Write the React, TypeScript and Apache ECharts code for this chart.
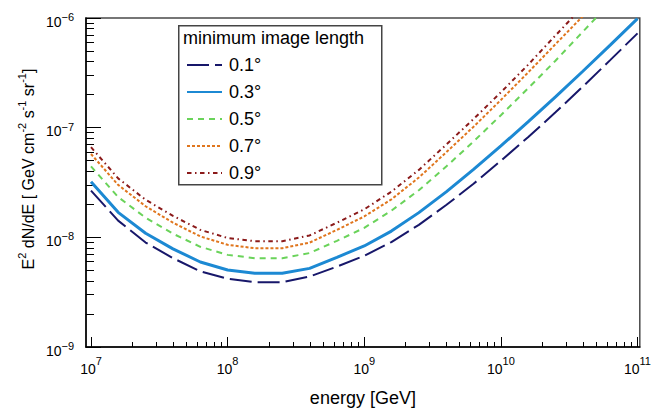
import React, { useEffect, useRef } from "react";
import * as echarts from "echarts";

// energy grid [GeV]
const energies = [1e7, 1.58e7, 2.51e7, 3.98e7, 6.31e7, 1e8, 1.58e8, 2.51e8, 3.98e8, 6.31e8, 1e9, 1.58e9, 2.51e9, 3.98e9, 6.31e9, 1e10, 1.58e10, 2.51e10, 3.98e10, 6.31e10, 1e11];

// E^2 dN/dE sensitivity [GeV cm^-2 s^-1 sr^-1] for each minimum image length
const sens01 = [2.67e-8, 1.42e-8, 8.97e-9, 6.46e-9, 4.9e-9, 4.19e-9, 3.9e-9, 3.9e-9, 4.39e-9, 5.41e-9, 6.78e-9, 9.06e-9, 1.3e-8, 1.97e-8, 3.08e-8, 4.99e-8, 8.18e-8, 1.38e-7, 2.37e-7, 4.13e-7, 7.24e-7];
const sens03 = [3.21e-8, 1.69e-8, 1.09e-8, 7.85e-9, 5.96e-9, 5.04e-9, 4.71e-9, 4.71e-9, 5.21e-9, 6.58e-9, 8.34e-9, 1.14e-8, 1.68e-8, 2.6e-8, 4.16e-8, 6.81e-8, 1.13e-7, 1.91e-7, 3.27e-7, 5.66e-7, 9.86e-7];
const sens05 = [4.43e-8, 2.33e-8, 1.51e-8, 1.08e-8, 8.2e-9, 6.92e-9, 6.46e-9, 6.46e-9, 7.19e-9, 9.29e-9, 1.22e-8, 1.75e-8, 2.69e-8, 4.42e-8, 7.48e-8, 1.3e-7, 2.28e-7, 4.08e-7, 7.5e-7, 1.37e-6, 2.54e-6];
const sens07 = [5.75e-8, 3.01e-8, 1.92e-8, 1.36e-8, 1.02e-8, 8.55e-9, 7.96e-9, 7.96e-9, 8.95e-9, 1.17e-8, 1.55e-8, 2.22e-8, 3.51e-8, 5.96e-8, 1.02e-7, 1.79e-7, 3.18e-7, 5.77e-7, 1.04e-6, 1.92e-6, 3.5e-6];
const sens09 = [6.64e-8, 3.45e-8, 2.2e-8, 1.57e-8, 1.17e-8, 9.86e-9, 9.23e-9, 9.23e-9, 1.04e-8, 1.36e-8, 1.8e-8, 2.61e-8, 4.12e-8, 7.0e-8, 1.2e-7, 2.1e-7, 3.74e-7, 6.93e-7, 1.27e-6, 2.35e-6, 4.4e-6];

const seriesNames = ["0.1°", "0.3°", "0.5°", "0.7°", "0.9°"];
const legendTitle = "minimum image length";

// axis ranges (decades)
const xDecades = [7, 8, 9, 10, 11];
const yDecades = [-9, -8, -7, -6];
const xMinLog = 6.9634;
const xMaxLog = 11.0168;

const FONT = "'Liberation Sans', Arial, Helvetica, sans-serif";

export default function App() {
  const ref = useRef<HTMLDivElement>(null);
  useEffect(() => {
    const chart = echarts.init(ref.current!, null, { renderer: "svg" });

    const xMinor: number[] = [];
    for (let d = 6; d <= 10; d++) for (let k = 2; k <= 9; k++) {
      const v = d + Math.log10(k);
      if (v > xMinLog && v < xMaxLog) xMinor.push(v);
    }
    const yMinor: number[] = [];
    for (let d = -9; d <= -7; d++) for (let k = 2; k <= 9; k++) yMinor.push(d + Math.log10(k));

    const mk = (name: string, vals: number[], color: string, width: number, type: any) => ({
      name,
      type: "line",
      xAxisIndex: 0,
      yAxisIndex: 0,
      data: energies.map((e, i) => [Math.log10(e), Math.log10(vals[i])]),
      symbol: "none",
      showSymbol: false,
      clip: true,
      silent: true,
      lineStyle: { color, width, type, cap: "butt" },
      itemStyle: { color },
    });

    const rich = {
      b: { fontSize: 14, fontFamily: FONT, color: "#000", lineHeight: 28 },
      s: { fontSize: 11, fontFamily: FONT, color: "#000", lineHeight: 11, verticalAlign: "top" },
    };
    const richY = {
      b: { fontSize: 14, fontFamily: FONT, color: "#000", lineHeight: 20 },
      s: { fontSize: 11, fontFamily: FONT, color: "#000", lineHeight: 11, verticalAlign: "top" },
    };

    const option: any = {
      animation: false,
      grid: {
        left: 86, right: 14, top: 18, bottom: 52,
        show: true, borderColor: "#4a4a4a", borderWidth: 1.5, backgroundColor: "transparent",
      },
      xAxis: [
        {
          type: "value", min: xMinLog, max: xMaxLog, position: "bottom",
          name: "energy [GeV]", nameLocation: "middle", nameGap: 42,
          nameTextStyle: { fontSize: 18, fontFamily: FONT, color: "#000" },
          axisLine: { show: true, lineStyle: { color: "#000", width: 1.5 } },
          axisTick: { show: true, inside: true, length: 10, customValues: xDecades, lineStyle: { color: "#000", width: 1 } },
          axisLabel: {
            customValues: xDecades, margin: 8,
            formatter: (v: number) => `{b|10}{s|${Math.round(v)}}`,
            rich,
          },
          splitLine: { show: false },
        },
        {
          type: "value", min: xMinLog, max: xMaxLog, position: "bottom", offset: 0,
          axisLine: { show: false },
          axisTick: { show: true, inside: true, length: 5, customValues: xMinor, lineStyle: { color: "#000", width: 1 } },
          axisLabel: { show: false },
          splitLine: { show: false },
        },
      ],
      yAxis: [
        {
          type: "value", min: -9, max: -6, interval: 1, position: "left",
          axisLine: { show: true, lineStyle: { color: "#000", width: 1.5 } },
          axisTick: { show: true, inside: true, length: 15, customValues: yDecades, lineStyle: { color: "#000", width: 1 } },
          axisLabel: {
            customValues: yDecades, margin: 12, padding: [7, 0, 0, 0],
            formatter: (v: number) => `{b|10}{s|\u2212${Math.abs(Math.round(v))}}`,
            rich: richY,
          },
          splitLine: { show: false },
        },
        {
          type: "value", min: -9, max: -6, position: "left", offset: 0,
          axisLine: { show: false },
          axisTick: { show: true, inside: true, length: 8, customValues: yMinor, lineStyle: { color: "#000", width: 1 } },
          axisLabel: { show: false },
          splitLine: { show: false },
        },
      ],
      legend: {
        left: 186, top: 56, orient: "vertical", padding: 0,
        itemWidth: 35, itemHeight: 14, itemGap: 9,
        selectedMode: false,
        data: seriesNames,
        itemStyle: { opacity: 0 },
        textStyle: { fontSize: 18, fontFamily: FONT, color: "#000", lineHeight: 14, padding: [0, 0, 0, 2] },
      },
      graphic: [
        {
          type: "rect", left: 178, top: 25, z: 10,
          shape: { x: 0, y: 0, width: 203, height: 159 },
          style: { fill: "transparent", stroke: "#444", lineWidth: 1.5 },
        },
        {
          type: "text", x: 183, y: 38, z: 10,
          style: { text: legendTitle, fontSize: 18, fontFamily: FONT, fill: "#000", align: "left", verticalAlign: "middle" },
        },
        {
          type: "text", x: 28, y: 169, rotation: Math.PI / 2, z: 10,
          style: {
            text: "{m|E}{s|2}{m| dN/dE [ GeV cm}{s|-2}{m| s}{s|-1}{m| sr}{s|-1}{m|]}",
            align: "center", verticalAlign: "middle",
            rich: {
              m: { fontSize: 16, fontFamily: FONT, fill: "#000", lineHeight: 24 },
              s: { fontSize: 11, fontFamily: FONT, fill: "#000", lineHeight: 11, verticalAlign: "top" },
            },
          },
        },
      ],
      series: [
        mk(seriesNames[0], sens01, "#17176a", 2, [22, 6]),
        mk(seriesNames[1], sens03, "#1c89d3", 3, "solid"),
        mk(seriesNames[2], sens05, "#6ad35a", 2, [6, 5]),
        mk(seriesNames[3], sens07, "#e0761e", 2, [3, 2]),
        mk(seriesNames[4], sens09, "#8b1a1a", 2, [4.5, 3.5, 1.5, 3.5]),
      ],
    };
    chart.setOption(option);
    return () => chart.dispose();
  }, []);
  return <div ref={ref} style={{ position: "fixed", left: 0, top: 0, width: 654, height: 412, background: "#fff" }} />;
}
